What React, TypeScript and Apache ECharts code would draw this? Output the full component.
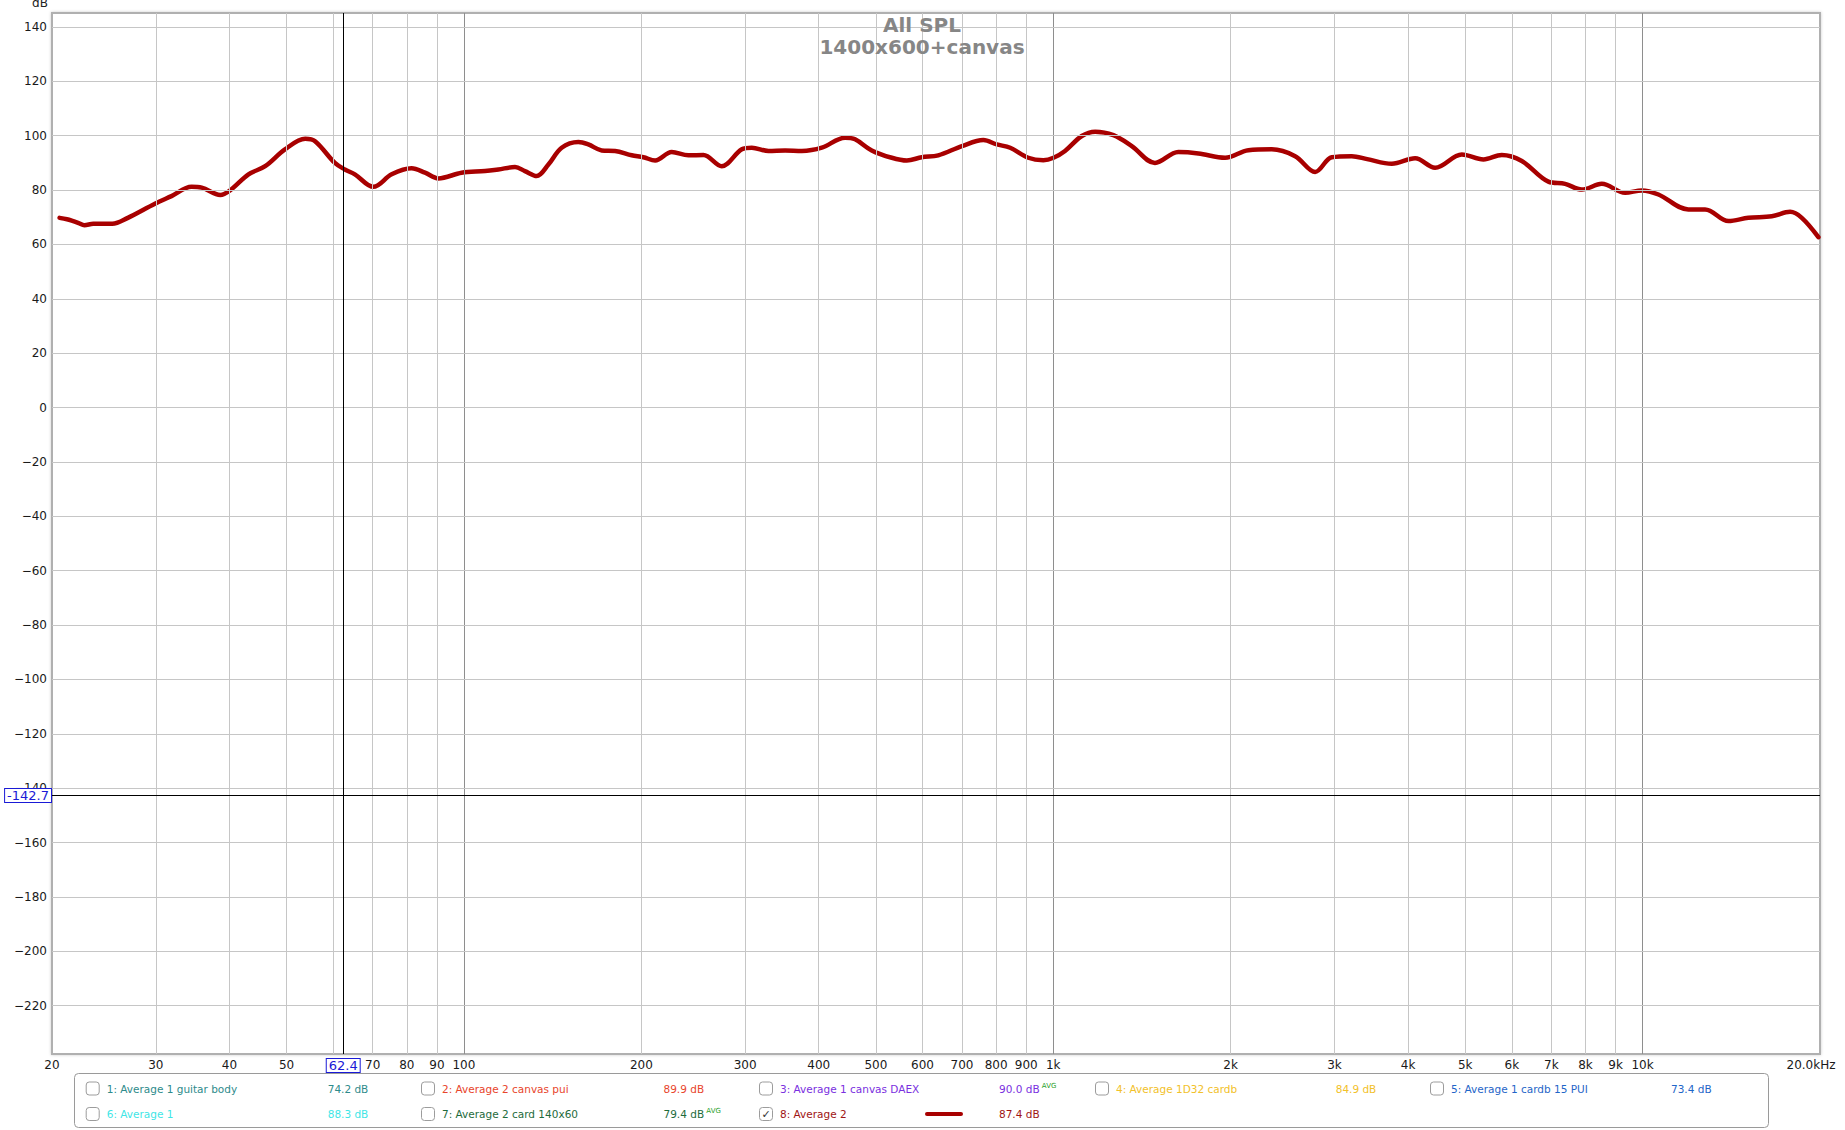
import React, { useEffect, useRef } from 'react';
import * as echarts from 'echarts';

// ---- data ----
const freqHz = [
  20.6, 21.2, 21.6, 22.2, 22.7, 23.5, 25.3, 26.9, 29.9, 31.9,
  34.5, 35.9, 38.6, 40.1, 43.1, 46.0, 49.7, 53.8, 55.9, 60.4,
  62.8, 65.3, 70.2, 75.4, 81.5, 85.9, 90.5, 99.1, 108.6, 114.4,
  122.1, 126.9, 132.9, 139.1, 146.5, 156.4, 162.6, 171.3, 180.5, 192.6,
  201.6, 211.1, 225.2, 240.4, 254.9, 273.8, 296.2, 307.9, 328.6, 350.7,
  374.4, 404.8, 443.4, 461.0, 492.0, 532.2, 564.3, 598.4, 638, 700,
  761, 802, 845, 907, 962, 1001, 1047, 1118, 1178, 1265,
  1359, 1488, 1630, 1763, 1957, 2143, 2348, 2573, 2782, 2969,
  3210, 3410, 3754, 4112, 4446, 4935, 5370, 5768, 6238, 6920,
  7388, 7887, 8527, 9340, 9972, 10638, 11958, 12766, 13986, 15118,
  16566, 17796, 18626, 19876,
];
const splDb = [
  69.8, 69.3, 68.8, 67.9, 67.1, 67.6, 67.6, 69.8, 75.0, 77.8,
  81.2, 80.9, 78.2, 79.9, 85.8, 88.8, 95.0, 98.9, 98.0, 90.0,
  87.6, 85.8, 81.2, 85.8, 88.0, 86.4, 84.3, 86.4, 87.0, 87.6,
  88.5, 87.0, 85.2, 89.4, 95.6, 97.7, 96.8, 94.6, 94.4, 92.8,
  92.1, 90.9, 94.0, 92.8, 92.9, 88.8, 95.0, 95.6, 94.4, 94.6,
  94.4, 95.6, 99.3, 98.7, 94.6, 91.9, 90.9, 92.1, 92.8, 96.2,
  98.4, 96.8, 95.6, 91.9, 91.0, 91.9, 94.4, 99.9, 101.5, 100.2,
  96.2, 90.0, 94.0, 93.5, 91.9, 94.7, 95.0, 92.5, 86.7, 92.1,
  92.5, 91.4, 89.7, 91.7, 88.2, 93.1, 91.3, 92.9, 90.7, 83.1,
  82.3, 80.2, 82.3, 79.0, 79.9, 78.4, 72.9, 72.9, 68.6, 69.8,
  70.4, 72.0, 69.8, 62.7,
];

const xTickValues = [20, 30, 40, 50, 60, 70, 80, 90, 100, 200, 300, 400, 500, 600, 700, 800, 900, 1000, 2000, 3000, 4000, 5000, 6000, 7000, 8000, 9000, 10000, 20000];
const xTickLabels = ['20', '30', '40', '50', '', '70', '80', '90', '100', '200', '300', '400', '500', '600', '700', '800', '900', '1k', '2k', '3k', '4k', '5k', '6k', '7k', '8k', '9k', '10k', '20.0kHz'];
const yTickValues = [-220, -200, -180, -160, -140, -120, -100, -80, -60, -40, -20, 0, 20, 40, 60, 80, 100, 120, 140];
const yTickLabels = yTickValues.map((v) => String(v).replace('-', '\u2212'));

const xMin = 20;
const xMax = 20000;
const yMin = -237.77;
const yMax = 145.15;

const cursorFreq = 62.4;
const cursorLevel = -142.7;
const cursorFreqLabel = '62.4';
const cursorLevelLabel = '-142.7';

const titleLines = ['All SPL', '1400x600+canvas'];
const yUnit = 'dB';

const legendNames = ['1: Average 1 guitar body', '2: Average 2 canvas pui', '3: Average 1 canvas DAEX', '4: Average 1D32 cardb', '5: Average 1 cardb 15 PUI', '6: Average 1', '7: Average 2 card 140x60', '8: Average 2'];
const legendValues = ['74.2 dB', '89.9 dB', '90.0 dB', '84.9 dB', '73.4 dB', '88.3 dB', '79.4 dB', '87.4 dB'];
const legendAvg = [false, false, true, false, false, false, true, false];
const legendChecked = [false, false, false, false, false, false, false, true];
const legendColors = ['#2e8b8b', '#e8452c', '#7a30e0', '#f2c12a', '#1f66c8', '#3fe6e6', '#1e6b3c', '#a01414'];

// ---- styling ----
const FONT = '"DejaVu Sans", "Lucida Grande", sans-serif';
const CURVE_COLOR = '#a80000';
const GRID_LEFT = 52;
const GRID_TOP = 13;
const GRID_RIGHT = 25;
const GRID_BOTTOM = 76;

function buildGraphic() {
  const g: any[] = [];
  g.push({
    type: 'text', x: 922, y: 25, z: 50,
    style: { text: titleLines[0], fontFamily: FONT, fontSize: 20, fontWeight: 'bold', fill: '#868686', align: 'center', verticalAlign: 'middle', textAlign: 'center', textVerticalAlign: 'middle' },
  });
  g.push({
    type: 'text', x: 922, y: 47, z: 50,
    style: { text: titleLines[1], fontFamily: FONT, fontSize: 20, fontWeight: 'bold', fill: '#868686', align: 'center', verticalAlign: 'middle', textAlign: 'center', textVerticalAlign: 'middle' },
  });
  g.push({
    type: 'text', x: 40, y: 3, z: 50,
    style: { text: yUnit, fontFamily: FONT, fontSize: 12, fill: '#222', align: 'center', verticalAlign: 'middle', textAlign: 'center', textVerticalAlign: 'middle' },
  });
  // legend frame
  g.push({
    type: 'rect', z: 40,
    shape: { x: 74.5, y: 1073.5, width: 1694, height: 54, r: 4 },
    style: { fill: '#fff', stroke: '#9a9a9a', lineWidth: 1 },
  });
  const colText = [106.7, 442, 780, 1116, 1451];
  const colVal = [327.7, 663.5, 999, 1335.7, 1671];
  const rowY = [1088.5, 1114];
  legendNames.forEach((name, i) => {
    const col = i < 5 ? i : i - 5;
    const row = i < 5 ? 0 : 1;
    const y = rowY[row];
    const bx = colText[col] - 21;
    g.push({
      type: 'rect', z: 41,
      shape: { x: bx + 0.5, y: y - 6.5, width: 13, height: 13, r: 3 },
      style: { fill: '#fff', stroke: '#9c9c9c', lineWidth: 1 },
    });
    if (legendChecked[i]) {
      g.push({
        type: 'text', x: bx + 7, y: y + 0.5, z: 42,
        style: { text: '\u2713', fontFamily: FONT, fontSize: 11, fill: '#333', align: 'center', verticalAlign: 'middle', textAlign: 'center', textVerticalAlign: 'middle' },
      });
      g.push({
        type: 'line', z: 42,
        shape: { x1: 927, y1: y, x2: 961, y2: y },
        style: { stroke: CURVE_COLOR, lineWidth: 4, lineCap: 'round' },
      });
    }
    g.push({
      type: 'text', x: colText[col], y, z: 42,
      style: { text: name, fontFamily: FONT, fontSize: 10.5, fill: legendColors[i], align: 'left', verticalAlign: 'middle', textAlign: 'left', textVerticalAlign: 'middle' },
    });
    if (legendAvg[i]) {
      g.push({
        type: 'text', x: colVal[col], y, z: 42,
        style: {
          text: '{v|' + legendValues[i] + '}{a| AVG}',
          align: 'left', verticalAlign: 'middle', textAlign: 'left', textVerticalAlign: 'middle',
          rich: {
            v: { fontFamily: FONT, fontSize: 10.5, fill: legendColors[i], color: legendColors[i] },
            a: { fontFamily: FONT, fontSize: 7, fill: '#2aa02a', color: '#2aa02a', padding: [0, 0, 6, 0] },
          },
        },
      });
    } else {
      g.push({
        type: 'text', x: colVal[col], y, z: 42,
        style: { text: legendValues[i], fontFamily: FONT, fontSize: 10.5, fill: legendColors[i], align: 'left', verticalAlign: 'middle', textAlign: 'left', textVerticalAlign: 'middle' },
      });
    }
  });
  return g;
}

function buildGridLines() {
  const lines: any[] = [];
  xTickValues.forEach((v, i) => {
    const decade = v === 100 || v === 1000 || v === 10000;
    const edge = v === xMin || v === xMax;
    const last = v === xMax;
    lines.push({
      xAxis: v,
      lineStyle: { color: edge ? 'rgba(0,0,0,0)' : (decade ? '#8e8e8e' : '#c6c6c6'), width: 1, type: 'solid' },
      label: {
        show: xTickLabels[i] !== '',
        position: 'start',
        formatter: () => xTickLabels[i],
        color: '#1a1a1a',
        fontFamily: FONT,
        fontSize: 12,
        distance: 5,
        align: 'center',
        padding: last ? [0, 18, 0, 0] : 0,
      },
    });
  });
  yTickValues.forEach((v, i) => {
    lines.push({
      yAxis: v,
      lineStyle: { color: '#c6c6c6', width: 1, type: 'solid' },
      label: {
        show: true,
        position: 'start',
        formatter: () => yTickLabels[i],
        color: '#1a1a1a',
        fontFamily: FONT,
        fontSize: 12,
        distance: 5,
      },
    });
  });
  return lines;
}

export default function App() {
  const ref = useRef<HTMLDivElement>(null);
  useEffect(() => {
    if (!ref.current) return;
    const chart = echarts.init(ref.current, undefined, { renderer: 'svg' });
    const option: any = {
      animation: false,
      backgroundColor: '#ffffff',
      grid: {
        left: GRID_LEFT, top: GRID_TOP, right: GRID_RIGHT, bottom: GRID_BOTTOM,
        show: true, backgroundColor: '#ffffff', borderColor: '#b0b0b0', borderWidth: 2,
        shadowColor: 'rgba(0,0,0,0.2)', shadowBlur: 3, shadowOffsetX: 0, shadowOffsetY: 0,
      },
      xAxis: {
        type: 'log', logBase: 10, min: xMin, max: xMax,
        axisLine: { show: false }, axisTick: { show: false }, axisLabel: { show: false }, splitLine: { show: false },
      },
      yAxis: {
        type: 'value', min: yMin, max: yMax,
        axisLine: { show: false }, axisTick: { show: false }, axisLabel: { show: false }, splitLine: { show: false },
      },
      series: [
        {
          type: 'line', name: 'gridlines', data: [], silent: true, z: 1,
          markLine: { silent: true, symbol: ['none', 'none'], animation: false, data: buildGridLines() },
        },
        {
          type: 'line', name: 'cursor', data: [], silent: true, z: 2,
          markLine: {
            silent: true, symbol: ['none', 'none'], animation: false,
            data: [
              {
                xAxis: cursorFreq,
                lineStyle: { color: '#000', width: 1, type: 'solid' },
                label: {
                  show: true, position: 'start', formatter: () => cursorFreqLabel,
                  color: '#1a1ad6', fontFamily: FONT, fontSize: 13, backgroundColor: '#fff',
                  borderColor: '#1a1ad6', borderWidth: 1, padding: [0, 2, 0, 2], distance: 5,
                },
              },
              {
                yAxis: cursorLevel,
                lineStyle: { color: '#000', width: 1, type: 'solid' },
                label: {
                  show: true, position: 'start', formatter: () => cursorLevelLabel,
                  color: '#1a1ad6', fontFamily: FONT, fontSize: 13, backgroundColor: '#fff',
                  borderColor: '#1a1ad6', borderWidth: 1, padding: [0, 2, 0, 2], distance: 1,
                },
              },
            ],
          },
        },
        {
          type: 'line', name: '8: Average 2', z: 3,
          data: freqHz.map((f, i) => [f, splDb[i]]),
          smooth: 0.35, showSymbol: false, symbol: 'none',
          lineStyle: { color: CURVE_COLOR, width: 4.5, cap: 'round', join: 'round' },
        },
      ],
      graphic: buildGraphic(),
    };
    chart.setOption(option);
    return () => chart.dispose();
  }, []);
  return (
    <div
      ref={ref}
      style={{ position: 'fixed', left: 0, top: 0, width: 1845, height: 1130, background: '#fff' }}
    />
  );
}
